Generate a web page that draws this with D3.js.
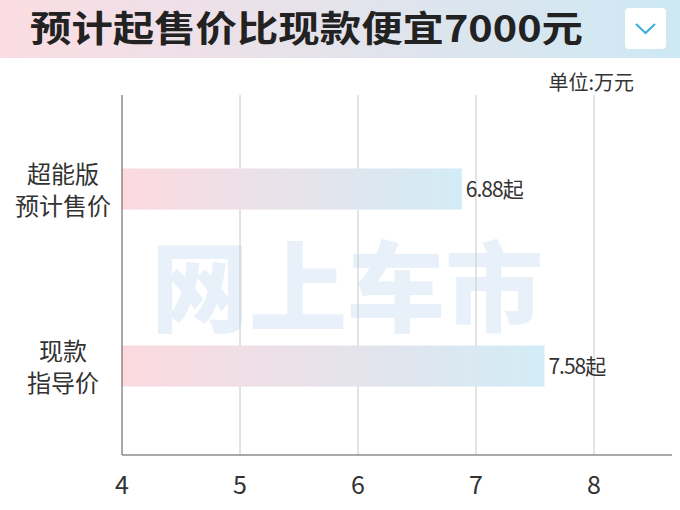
<!DOCTYPE html><html><head><meta charset="utf-8">
<script src="https://cdn.jsdelivr.net/npm/d3@7"></script>
<style>body{margin:0;background:#fff}</style></head><body><svg id="c" width="680" height="510"></svg>
<script>
const categories=[["超能版","预计售价"],["现款","指导价"]];
const values=[6.88,7.58];
const valueLabels=["6.88起","7.58起"];
const ticks=[4,5,6,7,8];
const svg=d3.select("#c");
const F="'Noto Sans CJK SC','Noto Sans',sans-serif";
const defs=svg.append("defs");
const tg=defs.append("linearGradient").attr("id","tg");
tg.append("stop").attr("offset","0").attr("stop-color","#fbdde3");
tg.append("stop").attr("offset","1").attr("stop-color","#cde9f4");
const bg=defs.append("linearGradient").attr("id","bg");
bg.append("stop").attr("offset","0").attr("stop-color","#fcd9df");
bg.append("stop").attr("offset","1").attr("stop-color","#d2ecf6");
svg.append("rect").attr("width",680).attr("height",58).attr("fill","url(#tg)");
svg.append("text").attr("x",30).attr("y",42).attr("font-family",F).attr("font-weight","bold").attr("font-size",36).attr("fill","#222").attr("textLength",553).attr("lengthAdjust","spacingAndGlyphs").text("预计起售价比现款便宜7000元");
svg.append("rect").attr("x",625).attr("y",8).attr("width",41).attr("height",41).attr("rx",4).attr("fill","#fff");
svg.append("path").attr("d","M636,24 L645.5,33 L655,24").attr("fill","none").attr("stroke","#3aaed8").attr("stroke-width",2);
svg.append("text").attr("x",634).attr("y",90).attr("text-anchor","end").attr("font-family",F).attr("font-size",20).attr("fill","#333").text("单位:万元");
const x=d3.scaleLinear().domain([4,8]).range([122,594]);
const y=d3.scaleBand().domain([0,1]).range([100,455]).paddingInner(0.768).paddingOuter(0.387);
svg.append("text").attr("x",347).attr("y",324).attr("text-anchor","middle").attr("font-family",F).attr("font-weight","900").attr("font-size",98).attr("fill","#e3eef8").attr("opacity",0.8).text("网上车市");
svg.selectAll(".g").data(ticks.slice(1)).join("line").attr("x1",d=>x(d)).attr("x2",d=>x(d)).attr("y1",95).attr("y2",455).attr("stroke","#c8c8c8");
svg.selectAll(".bar").data(values).join("rect").attr("x",x(4)).attr("y",(d,i)=>y(i)).attr("height",y.bandwidth()).attr("width",d=>x(d)-x(4)).attr("fill","url(#bg)");
svg.selectAll(".vl").data(values).join("text").attr("x",d=>x(d)+4).attr("y",(d,i)=>y(i)+y.bandwidth()/2+8).attr("font-family",F).attr("font-size",21).attr("fill","#333").attr("letter-spacing",-1).text((d,i)=>valueLabels[i]);
categories.forEach((c,i)=>{const t=svg.append("text").attr("text-anchor","middle").attr("font-family",F).attr("font-size",24).attr("fill","#333");
c.forEach((s,j)=>t.append("tspan").attr("x",63).attr("y",y(i)+y.bandwidth()/2-6+j*32).text(s));});
svg.append("line").attr("x1",122).attr("x2",122).attr("y1",95).attr("y2",455).attr("stroke","#555");
svg.append("line").attr("x1",122).attr("x2",672).attr("y1",455).attr("y2",455).attr("stroke","#555");
svg.selectAll(".tl").data(ticks).join("text").attr("x",d=>x(d)).attr("y",494).attr("text-anchor","middle").attr("font-family",F).attr("font-size",25).attr("fill","#333").text(d=>d);
</script></body></html>
